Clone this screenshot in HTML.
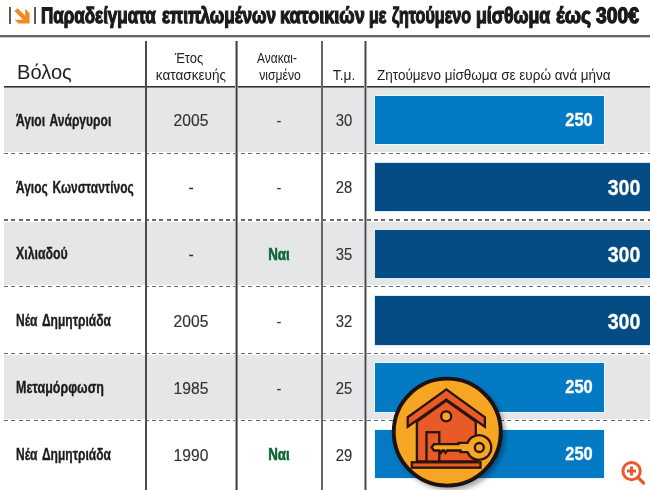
<!DOCTYPE html>
<html><head><meta charset="utf-8"><style>
html,body{margin:0;padding:0;background:#fff;}
body{width:650px;height:490px;position:relative;overflow:hidden;font-family:"Liberation Sans",sans-serif;}
.t{position:absolute;white-space:nowrap;line-height:1;}
.dash{position:absolute;left:4px;width:646px;height:1.3px;background:repeating-linear-gradient(90deg,#6a6a6a 0 4px,transparent 4px 7.4px);}
</style></head><body>
<div class="t" style="left:41.44px;top:5.04px;font-size:22.4px;font-weight:700;color:#1b1a1a;transform:scale(0.76,1.0);transform-origin:0 18.96px;-webkit-text-stroke:1.3px #1b1a1a;text-rendering:geometricPrecision;">Παραδείγματα</div>
<div class="t" style="left:161.50px;top:5.04px;font-size:22.4px;font-weight:700;color:#1b1a1a;transform:scale(0.7644,1.0);transform-origin:0 18.96px;-webkit-text-stroke:1.3px #1b1a1a;text-rendering:geometricPrecision;">επιπλωμένων</div>
<div class="t" style="left:279.99px;top:5.04px;font-size:22.4px;font-weight:700;color:#1b1a1a;transform:scale(0.8077,1.0);transform-origin:0 18.96px;-webkit-text-stroke:1.3px #1b1a1a;text-rendering:geometricPrecision;">κατοικιών</div>
<div class="t" style="left:369.48px;top:5.04px;font-size:22.4px;font-weight:700;color:#1b1a1a;transform:scale(0.7167,1.0);transform-origin:0 18.96px;-webkit-text-stroke:1.3px #1b1a1a;text-rendering:geometricPrecision;">με</div>
<div class="t" style="left:391.70px;top:5.04px;font-size:22.4px;font-weight:700;color:#1b1a1a;transform:scale(0.7191,1.0);transform-origin:0 18.96px;-webkit-text-stroke:1.3px #1b1a1a;text-rendering:geometricPrecision;">ζητούμενο</div>
<div class="t" style="left:476.41px;top:5.04px;font-size:22.4px;font-weight:700;color:#1b1a1a;transform:scale(0.7925,1.0);transform-origin:0 18.96px;-webkit-text-stroke:1.3px #1b1a1a;text-rendering:geometricPrecision;">μίσθωμα</div>
<div class="t" style="left:556.30px;top:5.04px;font-size:22.4px;font-weight:700;color:#1b1a1a;transform:scale(0.8625,1.0);transform-origin:0 18.96px;-webkit-text-stroke:1.3px #1b1a1a;text-rendering:geometricPrecision;">έως</div>
<div class="t" style="left:596.20px;top:5.04px;font-size:22.4px;font-weight:700;color:#1b1a1a;transform:scale(0.86,1.0);transform-origin:0 18.96px;-webkit-text-stroke:1.3px #1b1a1a;text-rendering:geometricPrecision;">300€</div>
<div style="position:absolute;left:9px;top:7px;width:2px;height:17px;background:#5a5a5a"></div>
<div style="position:absolute;left:34px;top:7px;width:2px;height:17px;background:#5a5a5a"></div>
<svg style="position:absolute;left:0;top:0" width="40" height="30" viewBox="0 0 40 30">
<path d="M17.6 8.2 L25.2 15.8 L25.2 8.7 L29.6 13.1 L29.6 23.6 L18.5 23.6 L14.6 19.7 L23.1 19.7 L14.4 11 Z" fill="#f28a22"/></svg>
<div style="position:absolute;left:0;top:35px;width:650px;height:2px;background:#666"></div><div style="position:absolute;left:0;top:37px;width:650px;height:1px;background:#c8c8c8"></div>
<div style="position:absolute;left:4px;top:88.00px;width:646px;height:63.60px;background:#e5e6e8"></div>
<div style="position:absolute;left:4px;top:221.60px;width:646px;height:63.60px;background:#e5e6e8"></div>
<div style="position:absolute;left:4px;top:355.20px;width:646px;height:63.60px;background:#e5e6e8"></div>
<div class="dash" style="top:152.60px"></div>
<div class="dash" style="top:219.40px"></div>
<div class="dash" style="top:286.20px"></div>
<div class="dash" style="top:353.00px"></div>
<div class="dash" style="top:419.80px"></div>
<div style="position:absolute;left:4px;top:86px;width:646px;height:1px;background:#333"></div><div style="position:absolute;left:4px;top:87px;width:646px;height:1px;background:#808080"></div>
<div style="position:absolute;left:145px;top:41px;width:2px;height:449px;background:#4c4c4c;"></div>
<div style="position:absolute;left:236px;top:41px;width:1px;height:449px;background:#3c3c3c;box-shadow:-1px 0 0 #a8a8a8,1px 0 0 #8c8c8c;"></div>
<div style="position:absolute;left:321px;top:41px;width:2px;height:449px;background:#666;"></div>
<div style="position:absolute;left:365px;top:41px;width:1px;height:449px;background:#444;box-shadow:-1px 0 0 #a0a0a0,1px 0 0 #a8a8a8;"></div>
<div class="t" style="left:17.30px;top:61.95px;font-size:20.5px;font-weight:400;color:#222;transform:scaleX(0.98);transform-origin:0 0;">Βόλος</div>
<div class="t" style="left:39.00px;top:51.05px;width:300px;text-align:center;font-size:14px;font-weight:400;color:#222;transform:scaleX(0.93);transform-origin:150.0px 0;">Έτος</div>
<div class="t" style="left:41.00px;top:68.15px;width:300px;text-align:center;font-size:14px;font-weight:400;color:#222;transform:scaleX(0.97);transform-origin:150.0px 0;">κατασκευής</div>
<div class="t" style="left:127.00px;top:51.35px;width:300px;text-align:center;font-size:14px;font-weight:400;color:#222;transform:scaleX(0.85);transform-origin:150.0px 0;">Ανακαι-</div>
<div class="t" style="left:130.20px;top:67.65px;width:300px;text-align:center;font-size:14px;font-weight:400;color:#222;transform:scaleX(0.87);transform-origin:150.0px 0;">νισμένο</div>
<div class="t" style="left:194.00px;top:67.53px;width:300px;text-align:center;font-size:14.5px;font-weight:400;color:#222;transform:scaleX(0.95);transform-origin:150.0px 0;">Τ.μ.</div>
<div class="t" style="left:377.00px;top:68.15px;font-size:14px;font-weight:400;color:#222;transform:scaleX(0.965);transform-origin:0 0;">Ζητούμενο μίσθωμα σε ευρώ ανά μήνα</div>
<div class="t" style="left:16.40px;top:112.63px;font-size:15.8px;font-weight:700;color:#1c1c1c;transform:scaleX(0.764);transform-origin:0 0;-webkit-text-stroke:0.35px #1c1c1c;word-spacing:2px;">Άγιοι Ανάργυροι</div>
<div class="t" style="left:40.60px;top:112.20px;width:300px;text-align:center;font-size:16.3px;font-weight:400;color:#333;transform:scaleX(0.96);transform-origin:150.0px 0;-webkit-text-stroke:0.15px #333;">2005</div>
<div class="t" style="left:128.80px;top:112.20px;width:300px;text-align:center;font-size:16.3px;font-weight:400;color:#333;transform:scaleX(0.91);transform-origin:150.0px 0;">-</div>
<div class="t" style="left:194.20px;top:112.20px;width:300px;text-align:center;font-size:16.3px;font-weight:400;color:#333;transform:scaleX(0.91);transform-origin:150.0px 0;-webkit-text-stroke:0.15px #333;">30</div>
<div style="position:absolute;left:375.3px;top:96.00px;width:228.3px;height:48.4px;background:#057ac4;box-shadow:0 0 0 1px #e6f7fd"></div>
<div class="t" style="left:429.00px;top:111.79px;width:300px;text-align:center;font-size:17.5px;font-weight:700;color:#fff;transform:scaleX(0.94);transform-origin:150.0px 0;-webkit-text-stroke:0.3px #fff;">250</div>
<div class="t" style="left:16.40px;top:179.53px;font-size:15.8px;font-weight:700;color:#1c1c1c;transform:scaleX(0.757);transform-origin:0 0;-webkit-text-stroke:0.35px #1c1c1c;word-spacing:2px;">Άγιος Κωνσταντίνος</div>
<div class="t" style="left:40.60px;top:179.10px;width:300px;text-align:center;font-size:16.3px;font-weight:400;color:#333;transform:scaleX(0.96);transform-origin:150.0px 0;-webkit-text-stroke:0.15px #333;">-</div>
<div class="t" style="left:128.80px;top:179.10px;width:300px;text-align:center;font-size:16.3px;font-weight:400;color:#333;transform:scaleX(0.91);transform-origin:150.0px 0;">-</div>
<div class="t" style="left:194.20px;top:179.10px;width:300px;text-align:center;font-size:16.3px;font-weight:400;color:#333;transform:scaleX(0.91);transform-origin:150.0px 0;-webkit-text-stroke:0.15px #333;">28</div>
<div style="position:absolute;left:375.3px;top:162.80px;width:280px;height:48.4px;background:#054c84;box-shadow:0 0 0 1px #dcecf6"></div>
<div class="t" style="left:474.30px;top:176.40px;width:300px;text-align:center;font-size:22.8px;font-weight:700;color:#fff;transform:scaleX(0.86);transform-origin:150.0px 0;-webkit-text-stroke:0.3px #fff;">300</div>
<div class="t" style="left:16.40px;top:246.43px;font-size:15.8px;font-weight:700;color:#1c1c1c;transform:scaleX(0.78);transform-origin:0 0;-webkit-text-stroke:0.35px #1c1c1c;word-spacing:2px;">Χιλιαδού</div>
<div class="t" style="left:40.60px;top:246.00px;width:300px;text-align:center;font-size:16.3px;font-weight:400;color:#333;transform:scaleX(0.96);transform-origin:150.0px 0;-webkit-text-stroke:0.15px #333;">-</div>
<div class="t" style="left:128.70px;top:245.72px;width:300px;text-align:center;font-size:17.1px;font-weight:700;color:#0c6634;transform:scaleX(0.78);transform-origin:150.0px 0;-webkit-text-stroke:0.6px #0c6634;">Ναι</div>
<div class="t" style="left:194.20px;top:246.00px;width:300px;text-align:center;font-size:16.3px;font-weight:400;color:#333;transform:scaleX(0.91);transform-origin:150.0px 0;-webkit-text-stroke:0.15px #333;">35</div>
<div style="position:absolute;left:375.3px;top:229.60px;width:280px;height:48.4px;background:#054c84;box-shadow:0 0 0 1px #dcecf6"></div>
<div class="t" style="left:474.30px;top:243.20px;width:300px;text-align:center;font-size:22.8px;font-weight:700;color:#fff;transform:scaleX(0.86);transform-origin:150.0px 0;-webkit-text-stroke:0.3px #fff;">300</div>
<div class="t" style="left:16.40px;top:313.33px;font-size:15.8px;font-weight:700;color:#1c1c1c;transform:scaleX(0.762);transform-origin:0 0;-webkit-text-stroke:0.35px #1c1c1c;word-spacing:2px;">Νέα Δημητριάδα</div>
<div class="t" style="left:40.60px;top:312.90px;width:300px;text-align:center;font-size:16.3px;font-weight:400;color:#333;transform:scaleX(0.96);transform-origin:150.0px 0;-webkit-text-stroke:0.15px #333;">2005</div>
<div class="t" style="left:128.80px;top:312.90px;width:300px;text-align:center;font-size:16.3px;font-weight:400;color:#333;transform:scaleX(0.91);transform-origin:150.0px 0;">-</div>
<div class="t" style="left:194.20px;top:312.90px;width:300px;text-align:center;font-size:16.3px;font-weight:400;color:#333;transform:scaleX(0.91);transform-origin:150.0px 0;-webkit-text-stroke:0.15px #333;">32</div>
<div style="position:absolute;left:375.3px;top:296.40px;width:280px;height:48.4px;background:#054c84;box-shadow:0 0 0 1px #dcecf6"></div>
<div class="t" style="left:474.30px;top:310.00px;width:300px;text-align:center;font-size:22.8px;font-weight:700;color:#fff;transform:scaleX(0.86);transform-origin:150.0px 0;-webkit-text-stroke:0.3px #fff;">300</div>
<div class="t" style="left:16.40px;top:380.23px;font-size:15.8px;font-weight:700;color:#1c1c1c;transform:scaleX(0.79);transform-origin:0 0;-webkit-text-stroke:0.35px #1c1c1c;word-spacing:2px;">Μεταμόρφωση</div>
<div class="t" style="left:40.60px;top:379.80px;width:300px;text-align:center;font-size:16.3px;font-weight:400;color:#333;transform:scaleX(0.96);transform-origin:150.0px 0;-webkit-text-stroke:0.15px #333;">1985</div>
<div class="t" style="left:128.80px;top:379.80px;width:300px;text-align:center;font-size:16.3px;font-weight:400;color:#333;transform:scaleX(0.91);transform-origin:150.0px 0;">-</div>
<div class="t" style="left:194.20px;top:379.80px;width:300px;text-align:center;font-size:16.3px;font-weight:400;color:#333;transform:scaleX(0.91);transform-origin:150.0px 0;-webkit-text-stroke:0.15px #333;">25</div>
<div style="position:absolute;left:375.3px;top:363.20px;width:228.3px;height:48.4px;background:#057ac4;box-shadow:0 0 0 1px #e6f7fd"></div>
<div class="t" style="left:429.00px;top:378.99px;width:300px;text-align:center;font-size:17.5px;font-weight:700;color:#fff;transform:scaleX(0.94);transform-origin:150.0px 0;-webkit-text-stroke:0.3px #fff;">250</div>
<div class="t" style="left:16.40px;top:447.13px;font-size:15.8px;font-weight:700;color:#1c1c1c;transform:scaleX(0.762);transform-origin:0 0;-webkit-text-stroke:0.35px #1c1c1c;word-spacing:2px;">Νέα Δημητριάδα</div>
<div class="t" style="left:40.60px;top:446.70px;width:300px;text-align:center;font-size:16.3px;font-weight:400;color:#333;transform:scaleX(0.96);transform-origin:150.0px 0;-webkit-text-stroke:0.15px #333;">1990</div>
<div class="t" style="left:128.70px;top:446.42px;width:300px;text-align:center;font-size:17.1px;font-weight:700;color:#0c6634;transform:scaleX(0.78);transform-origin:150.0px 0;-webkit-text-stroke:0.6px #0c6634;">Ναι</div>
<div class="t" style="left:194.20px;top:446.70px;width:300px;text-align:center;font-size:16.3px;font-weight:400;color:#333;transform:scaleX(0.91);transform-origin:150.0px 0;-webkit-text-stroke:0.15px #333;">29</div>
<div style="position:absolute;left:375.3px;top:430.00px;width:228.3px;height:48.4px;background:#057ac4;box-shadow:0 0 0 1px #e6f7fd"></div>
<div class="t" style="left:429.00px;top:445.79px;width:300px;text-align:center;font-size:17.5px;font-weight:700;color:#fff;transform:scaleX(0.94);transform-origin:150.0px 0;-webkit-text-stroke:0.3px #fff;">250</div>
<svg style="position:absolute;left:0;top:0" width="650" height="490" viewBox="0 0 650 490">
<defs><filter id="bl" x="-20%" y="-20%" width="140%" height="140%"><feGaussianBlur stdDeviation="2.5"/></filter></defs>
<circle cx="450.5" cy="435.5" r="55" fill="#000" opacity="0.35" filter="url(#bl)"/>
<circle cx="447.25" cy="432.1" r="53.5" fill="#f6a623" stroke="#1c130e" stroke-width="3.9"/>
<g stroke="#2a140b" stroke-width="2.3" stroke-linejoin="miter">
<path d="M416.9 421.5 L446.3 400.5 L475.8 421.5 L475.8 461.5 L416.9 461.5 Z" fill="#e85a28"/>
<path d="M407.7 417.3 L446.3 389.4 L484.9 417.3 L484.9 426.8 L446.3 399.6 L407.7 426.8 Z" fill="#e85a28"/>
<circle cx="446.2" cy="416.3" r="5" fill="#f6a623"/>
<rect x="426.5" y="432.2" width="12.8" height="29.3" fill="#e85a28"/>
<rect x="411.8" y="462.3" width="68.7" height="5.4" fill="#e85a28"/>
<path d="M431.6 447.3 L434 444.2 L458.5 444.2 L458.5 442.8 L467.6 442.8 A12.3 12.3 0 1 1 467.6 452.2 L460.5 452.2 L460.5 450.5 L447 450.5 L445.5 452.8 L444 450.5 L442.5 450.5 L441 452.8 L439.5 450.5 L434 450.5 Z" fill="#f6a623"/>
<circle cx="479.3" cy="447.5" r="4.5" fill="#f6a623"/>
</g>
</svg>
<svg style="position:absolute;left:0;top:0" width="650" height="490" viewBox="0 0 650 490">
<g stroke="#ea5a2e" fill="none" stroke-width="2.8"><circle cx="631.6" cy="471.1" r="8.7" stroke-width="3"/><path d="M638 477.5 L643.5 483" stroke-linecap="round" stroke-width="3.2"/>
<path d="M627 471 H636 M631.5 466.5 V475.5" stroke-width="3"/></g></svg>
</body></html>
